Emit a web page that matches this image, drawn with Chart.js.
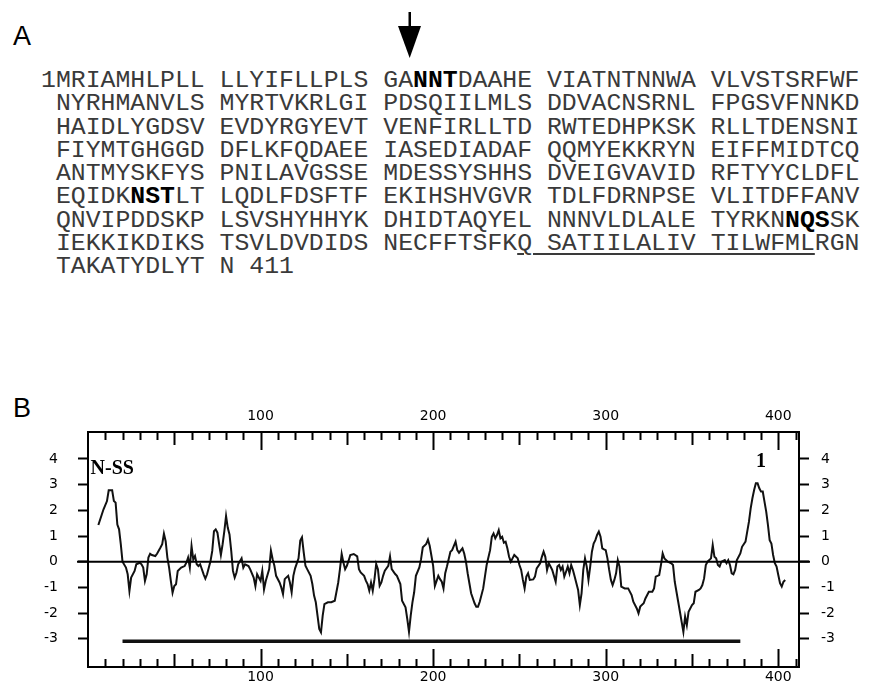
<!DOCTYPE html>
<html>
<head>
<meta charset="utf-8">
<script src="https://cdn.jsdelivr.net/npm/chart.js@4.4.1/dist/chart.umd.min.js"></script>
<style>
  html, body { margin: 0; padding: 0; background: #fff; }
  body { width: 871px; height: 686px; position: relative; overflow: hidden; }
  .panel { position: absolute; font-family: "Liberation Sans", Arial, sans-serif; font-size: 27px; color: #000; line-height: 1; }
  #seq { position: absolute; left: 41px; top: 69px; margin: 0;
         font-family: "Liberation Mono", "Courier New", monospace; font-size: 24.8px; line-height: 23.3px;
         color: #3a3a3a; white-space: pre; }
  #seq b { color: #000; }
  #seq u { text-decoration-thickness: 1.5px; text-underline-offset: 3px; }
  #arrow { position: absolute; left: 0; top: 0; }
  #plot { position: absolute; left: 0; top: 380px; }
</style>
</head>
<body>
<div class="panel" style="left:13px; top:23px;">A</div>
<svg id="arrow" width="871" height="70">
  <rect x="408.5" y="12" width="2.5" height="16" fill="#000"/>
  <polygon points="398,26 421,26 409.7,58" fill="#000"/>
</svg>
<pre id="seq">1MRIAMHLPLL LLYIFLLPLS GA<b>NNT</b>DAAHE VIATNTNNWA VLVSTSRFWF
 NYRHMANVLS MYRTVKRLGI PDSQIILMLS DDVACNSRNL FPGSVFNNKD
 HAIDLYGDSV EVDYRGYEVT VENFIRLLTD RWTEDHPKSK RLLTDENSNI
 FIYMTGHGGD DFLKFQDAEE IASEDIADAF QQMYEKKRYN EIFFMIDTCQ
 ANTMYSKFYS PNILAVGSSE MDESSYSHHS DVEIGVAVID RFTYYCLDFL
 EQIDK<b>NST</b>LT LQDLFDSFTF EKIHSHVGVR TDLFDRNPSE VLITDFFANV
 QNVIPDDSKP LSVSHYHHYK DHIDTAQYEL NNNVLDLALE TYRKN<b>NQS</b>SK
 IEKKIKDIKS TSVLDVDIDS NECFFTSFK<u>Q SATIILALIV TILWFML</u>RGN
 TAKATYDLYT N 411</pre>
<div class="panel" style="left:13px; top:395px;">B</div>
<canvas id="plot" width="871" height="306"></canvas>
<script>
// Hydropathy profile: residue position and averaged hydropathy value
const residues = [
  6, 8, 9, 11, 12, 14, 15, 16, 17, 18, 19, 20, 22, 23, 24, 25, 27, 28, 30, 31,
  32, 33, 34, 35, 36, 37, 39, 40, 42, 43, 44, 45, 46, 47, 48, 49, 50, 51, 52, 54,
  56, 57, 58, 59, 60, 61, 62, 63, 64, 65, 67, 68, 69, 71, 72, 73, 74, 75, 76, 77,
  78, 79, 80, 81, 82, 83, 84, 85, 86, 87, 89, 90, 91, 93, 94, 96, 97, 98, 100, 101,
  102, 103, 105, 106, 107, 108, 109, 111, 112, 113, 114, 115, 116, 117, 118, 119, 120, 122, 123, 124,
  125, 126, 127, 129, 130, 131, 132, 133, 134, 135, 136, 137, 139, 141, 143, 145, 146, 147, 148, 149,
  150, 151, 152, 154, 156, 157, 158, 160, 161, 162, 163, 164, 165, 166, 167, 168, 169, 170, 171, 172,
  174, 175, 176, 178, 179, 181, 182, 184, 185, 186, 187, 188, 189, 190, 192, 193, 194, 196, 197, 198,
  199, 200, 201, 203, 204, 205, 206, 207, 208, 210, 211, 213, 214, 215, 217, 218, 219, 220, 221, 222,
  224, 225, 226, 227, 229, 230, 231, 233, 234, 235, 236, 237, 238, 239, 240, 241, 242, 243, 244, 245,
  246, 247, 249, 250, 251, 252, 253, 254, 255, 256, 258, 259, 260, 262, 263, 264, 265, 266, 267, 268,
  269, 271, 272, 273, 274, 275, 276, 277, 278, 279, 280, 281, 282, 283, 284, 285, 286, 287, 288, 289,
  290, 291, 292, 293, 294, 295, 296, 297, 298, 299, 300, 301, 302, 303, 304, 305, 306, 307, 308, 309,
  311, 313, 315, 316, 318, 319, 320, 322, 323, 325, 327, 328, 329, 331, 332, 333, 334, 336, 338, 339,
  340, 341, 342, 343, 344, 345, 346, 347, 348, 350, 351, 352, 354, 355, 356, 357, 358, 359, 361, 362,
  363, 364, 365, 366, 367, 369, 370, 371, 372, 373, 374, 375, 376, 378, 379, 381, 382, 383, 384, 385,
  386, 387, 388, 389, 390, 391, 392, 393, 394, 395, 396, 397, 398, 399, 400, 401, 402, 403, 404
];
const hydropathy = [
  1.43, 1.84, 2.04, 2.36, 2.78, 2.78, 2.36, 2.30, 1.45, 1.26, 0.68, 0.00, -0.23, -0.49, -1.14, -0.62, -0.36, -0.10, -0.04, -0.10,
  -0.23, -0.75, -0.49, 0.16, 0.31, 0.26, 0.22, 0.31, 0.55, 0.68, 1.09, 0.80, 0.16, -0.23, -0.75, -1.21, -0.95, -0.88, -0.36, -0.23,
  -0.17, -0.04, 0.16, -0.23, 0.61, 0.09, 0.22, -0.10, -0.17, -0.10, -0.49, -0.66, -0.49, 0.03, 0.42, 1.19, 1.26, 1.13, 0.68, 0.26,
  0.68, 1.19, 1.78, 1.32, 1.06, 0.42, -0.36, -0.62, -0.43, -0.10, 0.13, -0.23, -0.10, -0.17, -0.30, -0.62, -0.95, -0.49, -0.75, -0.36,
  -1.08, -0.75, -0.29, 0.43, 0.10, -0.16, -0.55, -0.81, -1.00, -1.26, -0.68, -0.61, -0.55, -0.81, -1.19, -0.55, -0.26, 0.13, 0.82, 0.95,
  0.36, -0.16, -0.29, -0.55, -0.87, -1.32, -1.58, -2.10, -2.62, -2.75, -2.10, -1.65, -1.58, -1.58, -1.52, -0.81, -0.29, 0.30, -0.03, -0.29,
  -0.16, 0.04, 0.26, 0.30, 0.21, -0.29, -0.42, -0.55, -0.74, -0.87, -1.13, -0.81, -1.13, -0.68, -0.09, -0.29, -0.94, -0.81, -0.55, -0.35,
  -0.16, 0.21, -0.29, -0.48, -0.55, -0.87, -1.52, -1.78, -2.23, -2.73, -2.10, -1.58, -1.19, -0.55, -0.22, 0.10, 0.56, 0.69, 0.86, 0.62,
  0.23, -0.16, -0.94, -0.55, -0.68, -0.78, -1.04, -0.45, -0.19, 0.39, 0.45, 0.78, 0.45, 0.35, 0.52, 0.32, 0.00, -0.45, -0.84, -1.23,
  -1.62, -1.75, -1.75, -1.56, -1.04, -0.58, -0.13, 0.45, 0.97, 1.10, 0.91, 1.04, 1.23, 0.91, 0.97, 0.74, 0.78, 0.52, 0.19, 0.00,
  0.13, 0.26, 0.13, -0.13, -0.32, -0.71, -1.04, -0.58, -0.45, -0.71, -0.69, -0.58, -0.26, -0.06, 0.19, 0.39, 0.19, -0.32, -0.06, -0.19,
  -0.32, -0.78, -0.19, -0.13, -0.32, -0.19, -0.58, -0.39, -0.19, -0.45, -0.13, -0.32, -0.58, -0.84, -1.10, -1.69, -1.23, -0.32, 0.13, -0.19,
  -0.71, -0.19, 0.39, 0.71, 0.84, 1.04, 1.17, 0.97, 0.52, 0.48, 0.45, 0.13, -0.32, -0.71, -0.91, -0.71, -0.45, 0.06, -0.19, -0.97,
  -1.04, -1.04, -1.30, -1.56, -1.82, -2.01, -1.75, -1.62, -1.43, -1.17, -1.17, -1.04, -0.58, -0.52, -0.13, 0.32, 0.13, 0.00, -0.06, -0.13,
  -0.78, -1.17, -1.56, -1.95, -2.34, -2.73, -2.14, -2.47, -1.95, -1.69, -1.62, -1.17, -1.10, -1.04, -0.91, -0.65, -0.13, 0.00, 0.13, 0.65,
  0.19, 0.13, -0.13, -0.19, 0.00, 0.06, -0.06, 0.06, -0.13, -0.45, -0.49, -0.32, 0.06, 0.32, 0.58, 0.78, 1.17, 1.56, 2.08, 2.47,
  2.79, 3.05, 3.05, 2.86, 2.73, 2.73, 2.34, 1.95, 1.43, 0.84, 0.71, 0.26, -0.06, -0.19, -0.52, -0.84, -0.97, -0.78, -0.71
];

// Residue span marked by the horizontal bar under the profile, and its level
const barResidues = [20, 378];
const barLevel = [-3.1, -3.1];

// Axis ticks
const xTickValues = [];
for (let v = 10; v <= 410; v += 10) xTickValues.push(v);
const xLabelValues = [100, 200, 300, 400];
const yTickValues = [-3, -2, -1, 0, 1, 2, 3, 4];

// Text annotations on the plot: [text, residue, value]
const annotations = [['N-SS', 1.5, 3.6], ['1', 390, 3.9]];

const axisFont = { family: '"DejaVu Sans", sans-serif', size: 14 };

function xAxis(position, height, padding) {
  return {
    type: 'linear', position, min: 0, max: 412,
    afterBuildTicks: s => { s.ticks = xTickValues.map(v => ({ value: v })); },
    afterFit: s => { s.height = height; s.paddingLeft = 0; s.paddingRight = 0; },
    ticks: {
      autoSkip: false, maxRotation: 0, padding, color: '#000', font: axisFont,
      callback: v => xLabelValues.includes(v) ? String(v) : ''
    },
    grid: { drawOnChartArea: false, drawTicks: false },
    border: { display: true, color: '#000', width: 2 }
  };
}
function yAxis(position, width, padding) {
  return {
    type: 'linear', position, min: -4.1, max: 5.05,
    afterBuildTicks: s => { s.ticks = yTickValues.map(v => ({ value: v })); },
    afterFit: s => { s.width = width; s.paddingTop = 0; s.paddingBottom = 0; },
    ticks: { padding, color: '#000', font: axisFont, callback: v => String(v) },
    grid: { drawOnChartArea: false, drawTicks: true, tickLength: 10, tickWidth: 2, tickColor: '#000' },
    border: { display: true, color: '#000', width: 2 }
  };
}

// Zero line, inward ticks on the residue axes and plot annotations
const overlay = {
  id: 'overlay',
  afterDraw(chart) {
    const { ctx, chartArea: a, scales } = chart;
    const x = scales.x, y = scales.y;
    ctx.save();
    ctx.strokeStyle = '#000';
    ctx.lineWidth = 2;
    const y0 = y.getPixelForValue(0);
    ctx.beginPath(); ctx.moveTo(a.left - 11, y0); ctx.lineTo(a.right + 11, y0); ctx.stroke();
    for (const v of xTickValues) {
      const px = Math.round(x.getPixelForValue(v)) + 0.5;
      const len = v % 100 === 0 ? 18 : (v % 50 === 0 ? 13 : 8);
      ctx.beginPath();
      ctx.moveTo(px, a.top); ctx.lineTo(px, a.top + len);
      ctx.moveTo(px, a.bottom); ctx.lineTo(px, a.bottom - len);
      ctx.stroke();
    }
    ctx.fillStyle = '#000';
    ctx.font = 'bold 20px "Liberation Serif", serif';
    ctx.textBaseline = 'middle';
    for (const [t, r, v] of annotations) {
      ctx.textAlign = t === '1' ? 'center' : 'left';
      ctx.fillText(t, x.getPixelForValue(r), y.getPixelForValue(v));
    }
    ctx.restore();
  }
};

new Chart(document.getElementById('plot'), {
  type: 'line',
  data: {
    datasets: [
      {
        data: residues.map((r, i) => ({ x: r, y: hydropathy[i] })),
        borderColor: '#111', borderWidth: 2, pointRadius: 0, tension: 0, fill: false
      },
      {
        data: barResidues.map((r, i) => ({ x: r, y: barLevel[i] })),
        borderColor: '#111', borderWidth: 3.5, pointRadius: 0, fill: false
      }
    ]
  },
  options: {
    responsive: false,
    animation: false,
    devicePixelRatio: 1,
    layout: { padding: 0 },
    plugins: { legend: { display: false }, tooltip: { enabled: false } },
    scales: {
      x: xAxis('bottom', 19, 2),
      x2: xAxis('top', 52, 7),
      y: yAxis('left', 88, 20),
      y2: yAxis('right', 72, 12)
    }
  },
  plugins: [overlay]
});
</script>
</body>
</html>
